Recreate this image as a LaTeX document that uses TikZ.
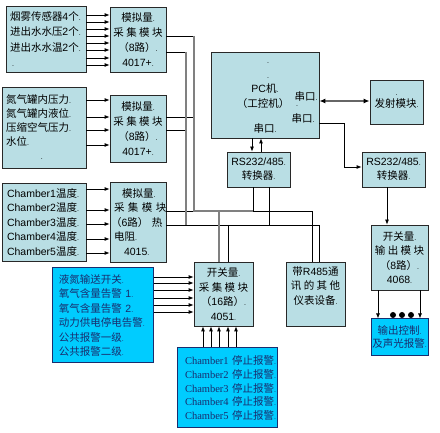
\documentclass[tikz,border=0pt]{standalone}
\usepackage{fontspec}
\setmainfont{Noto Sans CJK SC}
\newfontfamily\lat{Liberation Sans}
\newfontfamily\ser{Liberation Serif}
\usetikzlibrary{arrows.meta}
\definecolor{lt}{RGB}{185,222,228}
\definecolor{br}{RGB}{0,204,255}
\definecolor{nv}{RGB}{25,45,110}
\definecolor{bd}{RGB}{40,40,40}
\newcommand\la[1]{{\lat #1}}
\newcommand\pmk{{\lat\scriptsize .}}
\begin{document}
\begin{tikzpicture}[x=1pt,y=-1pt,
  every node/.style={font=\fontsize{10.5}{14.5}\selectfont,inner sep=0pt},
  box/.style={draw=bd,fill=lt,line width=0.8pt,inner sep=0pt},
  bbox/.style={draw=nv,fill=br,line width=1pt,inner sep=0pt,text=nv},
  arr/.style={-{Latex[length=5pt,width=4pt]},line width=0.8pt},
  wire/.style={line width=0.8pt},
  gwire/.style={line width=1.2pt,draw=gray}]
\useasboundingbox (0,0) rectangle (440,433);

% left input boxes
\node[box,minimum width=80pt,minimum height=66pt,text width=72pt,align=left,font=\fontsize{10.5}{15.3}\selectfont] (A) at (46,39)
 {烟雾传感器\la{4}个\pmk\\进出水水压\la{2}个\pmk\\进出水水温\la{2}个\pmk\\\hspace*{2pt}\pmk};
\node[box,minimum width=84pt,minimum height=81pt,text width=76pt,align=left,font=\fontsize{10.5}{14}\selectfont] (B) at (44,127.5)
 {氮气罐内压力\pmk\\氮气罐内液位\pmk\\压缩空气压力\pmk\\水位\pmk\\\hspace*{35pt}\pmk};
\node[box,minimum width=84pt,minimum height=78pt,text width=74pt,align=left] (C) at (44,222)
 {\la{Chamber1}温度\pmk\\\la{Chamber2}温度\pmk\\\la{Chamber3}温度\pmk\\\la{Chamber4}温度\pmk\\\la{Chamber5}温度\pmk};
\node[bbox,minimum width=101pt,minimum height=95pt,text width=87pt,align=left] (D) at (102.5,315.5)
 {液氮输送开关\pmk\\氧气含量告警~\la{1}\pmk\\氧气含量告警~\la{2}\pmk\\动力供电停电告警\pmk\\公共报警一级\pmk\\公共报警二级\pmk};
\node[bbox,minimum width=100pt,minimum height=80pt,text width=84pt,align=left,font=\fontsize{10.5}{13.8}\selectfont] (E) at (227,388)
 {{\ser Chamber1}~停止报警\pmk\\{\ser Chamber2}~停止报警\pmk\\{\ser Chamber3}~停止报警\pmk\\{\ser Chamber4}~停止报警\pmk\\{\ser Chamber5}~停止报警\pmk};

% acquisition modules
\node[box,minimum width=56pt,minimum height=65pt,align=center,font=\fontsize{10.5}{15}\selectfont] (M1) at (138,39.5)
 {模拟量\pmk\\采~集~模~块\\（\la{8}路）\pmk\\\la{4017+}\pmk};
\node[box,minimum width=56pt,minimum height=67pt,align=center,font=\fontsize{10.5}{15}\selectfont] (M2) at (138,128.5)
 {模拟量\pmk\\采~集~模~块\\（\la{8}路）\pmk\\\la{4017+}\pmk};
\node[box,minimum width=56pt,minimum height=80pt,text width=54pt,align=left] (M3) at (138,222)
 {\hspace*{11pt}模拟量\pmk\\\hspace*{3pt}采~集~模~块\\（\la{6}路）~热\\\hspace*{3pt}电阻\pmk\\\hspace*{13pt}\la{4015}\pmk};
\node[box,minimum width=59pt,minimum height=64pt,align=center] (M4) at (223.5,294)
 {开关量\pmk\\采~集~模~块\\（\la{16}路）\pmk\\\la{4051}\pmk};
\node[box,minimum width=59pt,minimum height=64pt] (R) at (315.5,294) {};
\node[align=center] (Rt) at (315.5,286) {带\la{R485}通\\讯~的~其~他\\仪表设备\pmk};

% PC and converters
\node[box,minimum width=108pt,minimum height=86pt] (PC) at (265,95) {};
\node (pc1) at (268,63) {\pmk};
\node (pc2) at (268,78) {\pmk};
\node (pc3) at (265,89) {\la{PC}机\pmk};
\node (pc4) at (263,104) {（工控机）};
\node (pc5) at (306,97) {串口\pmk};
\node (pc6) at (297,106) {\pmk};
\node (pc7) at (303,119) {串口\pmk};
\node (pc8) at (265,129) {串口\pmk};
\node[box,minimum width=53pt,minimum height=44pt,align=center,font=\fontsize{10.5}{12}\selectfont] (TX) at (396.5,102) {\pmk\\发射模块\pmk};
\node[box,minimum width=63pt,minimum height=35pt,align=center,font=\fontsize{10.5}{14}\selectfont] (CV1) at (258.5,169.5) {\la{RS232/485}\pmk\\转换器\pmk};
\node[box,minimum width=63pt,minimum height=35pt,align=center,font=\fontsize{10.5}{14}\selectfont] (CV2) at (393.5,169.5) {\la{RS232/485}\pmk\\转换器\pmk};
\node[box,minimum width=57pt,minimum height=65pt,align=center] (OUT) at (399.5,257.5)
 {开关量\pmk\\输~出~模~块\\（\la{8}路）\pmk\\\la{4068}\pmk};
\node[bbox,minimum width=57pt,minimum height=37pt,align=center,font=\fontsize{10.5}{13}\selectfont] (CTRL) at (399.5,337.5) {输出控制\pmk\\及声光报警\pmk};

% input arrows
\foreach \y in {15,22,29,36,43,50,58,65} \draw[arr] (A.east|-0,\y) -- (M1.west|-0,\y);
\foreach \y in {100,117,130,145} \draw[arr] (B.east|-0,\y) -- (M2.west|-0,\y);
\foreach \y in {189,210,224,239,253} \draw[arr] (C.east|-0,\y) -- (M3.west|-0,\y);
\foreach \y in {277,283,290,298,305,312} \draw[arr] (D.east|-0,\y) -- (M4.west|-0,\y);
\foreach \x in {203,211,219,228,236} \draw[arr] (E.north-|\x,0) -- (M4.south-|\x,0);

% RS485 bus
\draw[wire] (M1.east|-0,36) -- (194,36);
\draw[wire] (M1.east|-0,52) -- (186,52);
\draw[wire] (M2.east|-0,117) -- (194,117);
\draw[wire] (M2.east|-0,130) -- (186,130);
\draw[wire] (M3.east|-0,211) -- (312,211) -- (R.north-|312,0);
\draw[wire] (M3.east|-0,225) -- (319,225) -- (R.north-|319,0);
\draw[wire] (CV1.south-|253,0) -- (253,211);
\draw[wire] (CV1.south-|269,0) -- (269,225);
\draw[wire] (228,225) -- (M4.north-|228,0);
\draw[gwire] (194,36) -- (194,211) -- (253,211);
\draw[gwire] (186,52) -- (186,225);
\draw[gwire] (219,211) -- (M4.north-|219,0);

% PC connections
\draw[arr] (PC.south-|252,0) -- (CV1.north-|252,0);
\draw[arr] (CV1.north-|261,0) -- (PC.south-|261,0);
\draw[{Latex[length=6pt,width=5pt,color=black]}-{Latex[length=6pt,width=5pt,color=black]},line width=1.6pt,draw=gray!80!black] (PC.east|-0,101) -- (TX.west|-0,101);
\draw[arr] (PC.east|-0,123) -- (344,123) -- (344,167) -- (CV2.west|-0,167);
\draw[arr] (CV2.south-|387,0) -- (OUT.north-|387,0);
\draw[arr] (OUT.south-|378,0) -- (CTRL.north-|378,0);
\draw[arr] (OUT.south-|420,0) -- (CTRL.north-|420,0);
\foreach \x in {393,402,411} \fill (\x,315) circle (3pt);
\end{tikzpicture}
\end{document}
